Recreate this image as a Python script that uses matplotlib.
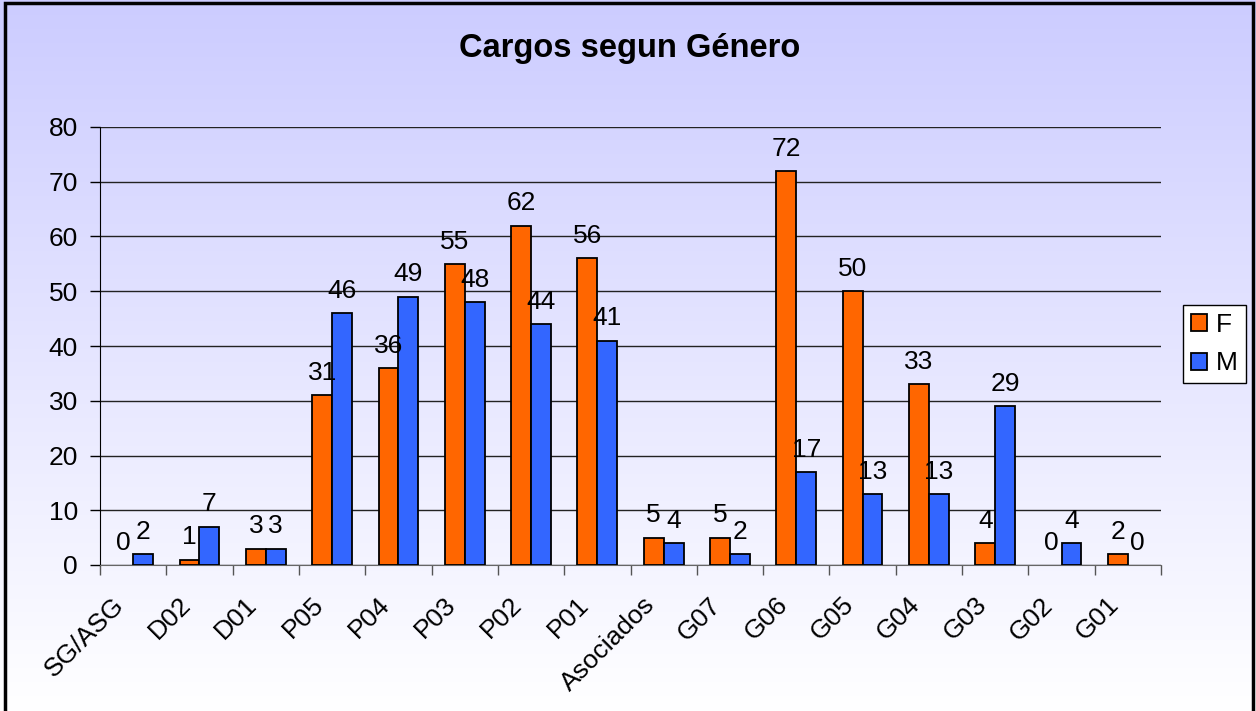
import matplotlib.pyplot as plt
import matplotlib.transforms as mtransforms
import numpy as np
from matplotlib.patches import Rectangle, Patch

categories = ['SG/ASG', 'D02', 'D01', 'P05', 'P04', 'P03', 'P02', 'P01',
              'Asociados', 'G07', 'G06', 'G05', 'G04', 'G03', 'G02', 'G01']
f_vals = [0, 1, 3, 31, 36, 55, 62, 56, 5, 5, 72, 50, 33, 4, 0, 2]
m_vals = [2, 7, 3, 46, 49, 48, 44, 41, 4, 2, 17, 13, 13, 29, 4, 0]

plt.rcParams['font.family'] = ['Liberation Sans', 'DejaVu Sans']

fig = plt.figure(figsize=(12.56, 7.11), dpi=100)

# gradient background
bg = fig.add_axes([0, 0, 1, 1], zorder=-10)
grad = np.linspace(0, 1, 256).reshape(-1, 1)
top = np.array([204, 204, 255]) / 255
bot = np.array([255, 255, 255]) / 255
img = top + (bot - top) * grad[..., None]
img = np.repeat(img, 2, axis=1)
bg.imshow(img, aspect='auto', extent=[0, 1, 0, 1])
bg.set_xlim(0, 1)
bg.set_ylim(0, 1)
bg.axis('off')
bg.add_patch(Rectangle((5 / 1256, -0.01), (1253 - 5) / 1256, 1.01 - 3 / 711,
                       fill=False, edgecolor='black', linewidth=2.5))

ax = fig.add_axes([100 / 1256, 146 / 711, 1061 / 1256, 438 / 711])
ax.patch.set_alpha(0)

x = np.arange(len(categories))
w = 0.3
bf = ax.bar(x - w / 2, f_vals, w, color='#FF6600', edgecolor='black', linewidth=1.3, zorder=3)
bm = ax.bar(x + w / 2, m_vals, w, color='#3366FF', edgecolor='black', linewidth=1.3, zorder=3)

for bars, vals in ((bf, f_vals), (bm, m_vals)):
    for b, v in zip(bars, vals):
        if v == 0:
            b.set_visible(False)
        ax.annotate(str(v), (b.get_x() + b.get_width() / 2, v), xytext=(0, 11),
                    textcoords='offset points', ha='center', va='baseline', fontsize=19)

ax.set_xlim(-0.5, len(categories) - 0.5)
ax.set_ylim(0, 80)
ax.set_yticks(range(0, 81, 10))
ax.yaxis.grid(True, color='#222222', linewidth=1)
ax.set_axisbelow(True)
ax.tick_params(axis='y', labelsize=19, length=7, width=1, pad=9)

ax.set_xticks(x)
ax.set_xticklabels(categories, rotation=45, ha='right', va='top', rotation_mode='anchor', fontsize=19)
ax.tick_params(axis='x', which='major', length=0, pad=20)
shift = mtransforms.ScaledTranslation(-21 / 100, 0, fig.dpi_scale_trans)
for lab in ax.get_xticklabels():
    lab.set_transform(lab.get_transform() + shift)
ax.set_xticks(np.arange(-0.5, len(categories)), minor=True)
ax.tick_params(axis='x', which='minor', length=7, width=1, color='#555555')

for s in ('top', 'right'):
    ax.spines[s].set_visible(False)
ax.spines['bottom'].set_color('#666666')
ax.spines['left'].set_color('black')

fig.text(630 / 1256, 1 - 48 / 711, 'Cargos segun Género', ha='center', va='center',
         fontsize=23.5, fontweight='bold')

handles = [Patch(facecolor='#FF6600', edgecolor='black', linewidth=1.3, label='F'),
           Patch(facecolor='#3366FF', edgecolor='black', linewidth=1.3, label='M')]
leg = fig.legend(handles=handles, loc='upper left', bbox_to_anchor=(1183 / 1256, 1 - 305 / 711),
                 fontsize=19, frameon=True, fancybox=False, edgecolor='black', framealpha=1,
                 handlelength=0.6, handleheight=0.6, handletextpad=0.35, borderpad=0.3,
                 labelspacing=0.55, borderaxespad=0)
leg.get_frame().set_linewidth(1)

fig.savefig('out.png', dpi=100)
